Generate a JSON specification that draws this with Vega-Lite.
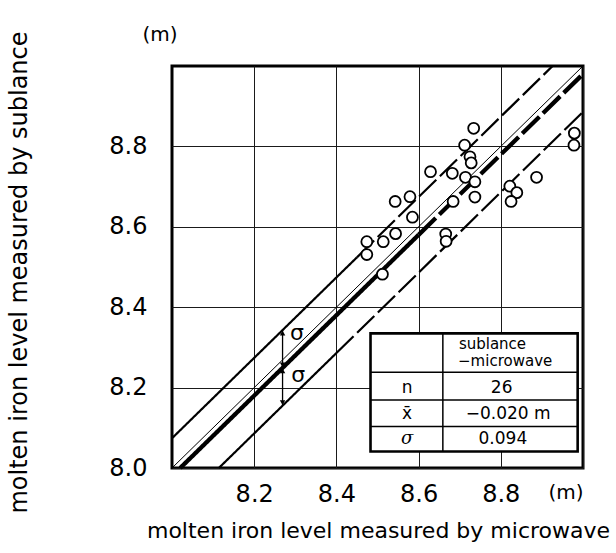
{
  "$schema": "https://vega.github.io/schema/vega-lite/v6.json",
  "width": 411,
  "height": 402,
  "autosize": "none",
  "padding": {"left": 172, "top": 66, "right": 33, "bottom": 85},
  "background": "white",
  "config": {
    "font": "DejaVu Sans",
    "view": {"stroke": "black", "strokeWidth": 3},
    "axis": {"labelColor": "black", "titleColor": "black", "titleFontWeight": "normal"}
  },
  "datasets": {
    "points": [
      {"microwave": 8.734, "sublance": 8.845},
      {"microwave": 8.712, "sublance": 8.803},
      {"microwave": 8.725, "sublance": 8.774},
      {"microwave": 8.728, "sublance": 8.759},
      {"microwave": 8.979, "sublance": 8.833},
      {"microwave": 8.978, "sublance": 8.803},
      {"microwave": 8.629, "sublance": 8.737},
      {"microwave": 8.682, "sublance": 8.733},
      {"microwave": 8.714, "sublance": 8.723},
      {"microwave": 8.737, "sublance": 8.712},
      {"microwave": 8.887, "sublance": 8.723},
      {"microwave": 8.822, "sublance": 8.701},
      {"microwave": 8.839, "sublance": 8.685},
      {"microwave": 8.825, "sublance": 8.663},
      {"microwave": 8.737, "sublance": 8.674},
      {"microwave": 8.543, "sublance": 8.663},
      {"microwave": 8.579, "sublance": 8.675},
      {"microwave": 8.585, "sublance": 8.624},
      {"microwave": 8.684, "sublance": 8.663},
      {"microwave": 8.474, "sublance": 8.563},
      {"microwave": 8.474, "sublance": 8.531},
      {"microwave": 8.514, "sublance": 8.563},
      {"microwave": 8.544, "sublance": 8.583},
      {"microwave": 8.666, "sublance": 8.582},
      {"microwave": 8.667, "sublance": 8.564},
      {"microwave": 8.512, "sublance": 8.482}
    ],
    "lines": [
      {"line": "equal", "part": "solid", "x1": 8.0, "y1": 8.0, "x2": 9.0, "y2": 9.0},
      {"line": "mean", "part": "solid", "x1": 8.02, "y1": 8.0, "x2": 8.6, "y2": 8.58},
      {"line": "mean", "part": "dashed", "x1": 8.6, "y1": 8.58, "x2": 9.0, "y2": 8.98},
      {"line": "mean + sigma", "part": "solid", "x1": 8.0, "y1": 8.074, "x2": 8.45, "y2": 8.524},
      {"line": "mean + sigma", "part": "dashed", "x1": 8.45, "y1": 8.524, "x2": 8.926, "y2": 9.0},
      {"line": "mean - sigma", "part": "solid", "x1": 8.114, "y1": 8.0, "x2": 8.4, "y2": 8.286},
      {"line": "mean - sigma", "part": "dashed", "x1": 8.4, "y1": 8.286, "x2": 9.0, "y2": 8.886}
    ],
    "arrows": [
      {"x": 8.269, "top": 8.343, "bottom": 8.249},
      {"x": 8.269, "top": 8.249, "bottom": 8.155}
    ],
    "sigmaLabels": [
      {"text": "σ", "x": 8.304, "y": 8.336},
      {"text": "σ", "x": 8.307, "y": 8.231}
    ],
    "box": [
      {"x1": 8.483, "x2": 8.987, "y1": 8.041, "y2": 8.335}
    ],
    "boxRules": [
      {"x1": 8.483, "y1": 8.238, "x2": 8.987, "y2": 8.238},
      {"x1": 8.483, "y1": 8.169, "x2": 8.987, "y2": 8.169},
      {"x1": 8.483, "y1": 8.103, "x2": 8.987, "y2": 8.103},
      {"x1": 8.659, "y1": 8.041, "x2": 8.659, "y2": 8.335}
    ],
    "header": [
      {"text": "sublance", "x": 8.698, "y": 8.309},
      {"text": "−microwave", "x": 8.696, "y": 8.265}
    ],
    "cells": [
      {"text": "n", "x": 8.572, "y": 8.199},
      {"text": "26", "x": 8.802, "y": 8.199},
      {"text": "x̄", "x": 8.572, "y": 8.134},
      {"text": "−0.020  m", "x": 8.818, "y": 8.134},
      {"text": "0.094", "x": 8.805, "y": 8.071}
    ],
    "unit": [
      {"text": "(m)", "x": 8.0, "y": 9.0}
    ]
  },
  "layer": [
    {
      "data": {"name": "lines"},
      "transform": [{"filter": "datum.line == 'equal'"}],
      "mark": {"type": "rule", "color": "black", "strokeWidth": 1},
      "encoding": {
        "x": {
          "field": "x1", "type": "quantitative",
          "scale": {"domain": [8.0, 9.0], "nice": false, "zero": false},
          "axis": {
            "title": "molten iron level measured by microwave",
            "titleFontSize": 22, "titleX": 206, "titleY": 69,
            "titleAlign": "center", "titleBaseline": "alphabetic",
            "values": [8.2, 8.4, 8.6, 8.8, 9.0],
            "labelExpr": "datum.value >= 9 ? '(m)' : format(datum.value, '.1f')",
            "labelFontSize": {"condition": {"test": "datum.value >= 9", "value": 20}, "value": 24},
            "labelAlign": {"condition": {"test": "datum.value >= 9", "value": "right"}, "value": "center"},
            "labelFlush": false, "labelOverlap": false, "labelBound": false,
            "labelDx": -5, "labelPadding": 14, "labelBaseline": "top",
            "ticks": false, "domain": false,
            "grid": true, "gridColor": "#1a1a1a", "gridWidth": 1
          }
        },
        "y": {
          "field": "y1", "type": "quantitative",
          "scale": {"domain": [8.0, 9.0], "nice": false, "zero": false},
          "axis": {
            "title": "molten iron level measured by sublance",
            "titleFontSize": 24, "titleX": -146, "titleY": 206,
            "titleAngle": -90, "titleAlign": "center", "titleBaseline": "alphabetic",
            "values": [8.0, 8.2, 8.4, 8.6, 8.8],
            "format": ".1f",
            "labelFontSize": 24, "labelPadding": 25,
            "labelOverlap": false, "labelBound": false,
            "ticks": false, "domain": false,
            "grid": true, "gridColor": "#1a1a1a", "gridWidth": 1
          }
        },
        "x2": {"field": "x2"},
        "y2": {"field": "y2"}
      }
    },
    {
      "data": {"name": "lines"},
      "transform": [{"filter": "datum.line == 'mean'"}],
      "mark": {"type": "rule", "color": "black", "strokeWidth": 4.3},
      "encoding": {
        "x": {"field": "x1", "type": "quantitative"},
        "y": {"field": "y1", "type": "quantitative"},
        "x2": {"field": "x2"},
        "y2": {"field": "y2"},
        "strokeDash": {"field": "part", "type": "nominal", "legend": null,
          "scale": {"domain": ["solid", "dashed"], "range": [[1, 0], [24, 5]]}}
      }
    },
    {
      "data": {"name": "lines"},
      "transform": [{"filter": "datum.line == 'mean + sigma' || datum.line == 'mean - sigma'"}],
      "mark": {"type": "rule", "color": "black", "strokeWidth": 2.2},
      "encoding": {
        "x": {"field": "x1", "type": "quantitative"},
        "y": {"field": "y1", "type": "quantitative"},
        "x2": {"field": "x2"},
        "y2": {"field": "y2"},
        "strokeDash": {"field": "part", "type": "nominal", "legend": null,
          "scale": {"domain": ["solid", "dashed"], "range": [[1, 0], [16, 5]]}}
      }
    },
    {
      "data": {"name": "arrows"},
      "mark": {"type": "rule", "color": "black", "strokeWidth": 1.3},
      "encoding": {
        "x": {"field": "x", "type": "quantitative"},
        "y": {"field": "top", "type": "quantitative"},
        "y2": {"field": "bottom"}
      }
    },
    {
      "data": {"name": "arrows"},
      "mark": {"type": "point", "shape": "triangle-up", "size": 30, "filled": true, "color": "black", "opacity": 1, "yOffset": 3},
      "encoding": {
        "x": {"field": "x", "type": "quantitative"},
        "y": {"field": "top", "type": "quantitative"}
      }
    },
    {
      "data": {"name": "arrows"},
      "mark": {"type": "point", "shape": "triangle-down", "size": 30, "filled": true, "color": "black", "opacity": 1, "yOffset": -3},
      "encoding": {
        "x": {"field": "x", "type": "quantitative"},
        "y": {"field": "bottom", "type": "quantitative"}
      }
    },
    {
      "data": {"name": "sigmaLabels"},
      "mark": {"type": "text", "fontSize": 22, "color": "black", "align": "center", "baseline": "middle"},
      "encoding": {
        "x": {"field": "x", "type": "quantitative"},
        "y": {"field": "y", "type": "quantitative"},
        "text": {"field": "text"}
      }
    },
    {
      "data": {"name": "points"},
      "mark": {"type": "point", "shape": "circle", "size": 120, "filled": true, "fill": "white", "stroke": "black", "strokeWidth": 1.8, "opacity": 1},
      "encoding": {
        "x": {"field": "microwave", "type": "quantitative"},
        "y": {"field": "sublance", "type": "quantitative"}
      }
    },
    {
      "data": {"name": "box"},
      "mark": {"type": "rect", "fill": "white", "stroke": "black", "strokeWidth": 2.6},
      "encoding": {
        "x": {"field": "x1", "type": "quantitative"},
        "x2": {"field": "x2"},
        "y": {"field": "y1", "type": "quantitative"},
        "y2": {"field": "y2"}
      }
    },
    {
      "data": {"name": "boxRules"},
      "mark": {"type": "rule", "color": "black", "strokeWidth": 1.5},
      "encoding": {
        "x": {"field": "x1", "type": "quantitative"},
        "y": {"field": "y1", "type": "quantitative"},
        "x2": {"field": "x2"},
        "y2": {"field": "y2"}
      }
    },
    {
      "data": {"name": "header"},
      "mark": {"type": "text", "fontSize": 15, "color": "black", "align": "left", "baseline": "middle"},
      "encoding": {
        "x": {"field": "x", "type": "quantitative"},
        "y": {"field": "y", "type": "quantitative"},
        "text": {"field": "text"}
      }
    },
    {
      "data": {"name": "cells"},
      "mark": {"type": "text", "fontSize": 17, "color": "black", "align": "center", "baseline": "middle"},
      "encoding": {
        "x": {"field": "x", "type": "quantitative"},
        "y": {"field": "y", "type": "quantitative"},
        "text": {"field": "text"}
      }
    },
    {
      "data": {"values": [{"text": "σ", "x": 8.572, "y": 8.071}]},
      "mark": {"type": "text", "fontSize": 18, "fontStyle": "italic", "font": "DejaVu Serif", "color": "black", "align": "center", "baseline": "middle"},
      "encoding": {
        "x": {"field": "x", "type": "quantitative"},
        "y": {"field": "y", "type": "quantitative"},
        "text": {"field": "text"}
      }
    },
    {
      "data": {"name": "unit"},
      "mark": {"type": "text", "fontSize": 20, "color": "black", "align": "center", "baseline": "middle", "dx": -12, "dy": -31},
      "encoding": {
        "x": {"field": "x", "type": "quantitative"},
        "y": {"field": "y", "type": "quantitative"},
        "text": {"field": "text"}
      }
    }
  ]
}
